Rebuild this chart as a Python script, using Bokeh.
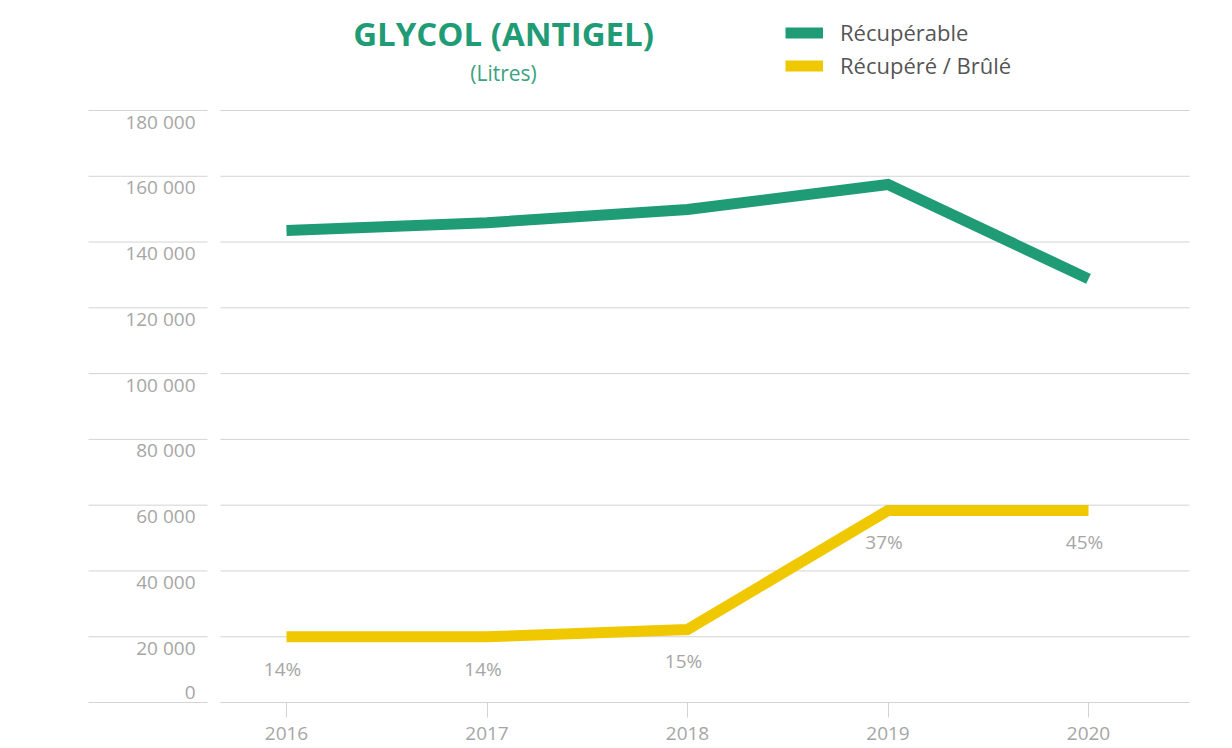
from bokeh.plotting import figure
from bokeh.models import Range1d, Legend, LegendItem, Label, FixedTicker
from bokeh.core.properties import value
from bokeh.embed import file_html
from bokeh.resources import INLINE

# ---- data ----
years = [2016, 2017, 2018, 2019, 2020]
recuperable = [143500, 145900, 149900, 157500, 128800]
recupere_brule = [20000, 20000, 22200, 58400, 58400]
pct_labels = ["14%", "14%", "15%", "37%", "45%"]
y_ticks = [0, 20000, 40000, 60000, 80000, 100000, 120000, 140000, 160000, 180000]
y_tick_labels = [f"{v:,}".replace(",", " ") for v in y_ticks]
series_names = ["Récupérable", "Récupéré / Brûlé"]
title_text = "GLYCOL (ANTIGEL)"
subtitle_text = "(Litres)"

# ---- style / layout ----
GREEN = "#1f9b76"
YELLOW = "#f0c800"
GRID = "#d3d3d3"
TXT = "#a6a6a6"
FONT = "Open Sans"

W, H = 1216, 748
FRAME_BOTTOM = 704            # page px of frame bottom
ZERO_PX = 702                 # page px of value 0
BOTTOM = H - FRAME_BOTTOM
PX_PER_YEAR = 200.5
FIRST_YEAR_PX = 286           # page px of first year
x0 = years[0] - FIRST_YEAR_PX / PX_PER_YEAR
x1 = x0 + W / PX_PER_YEAR
PX_PER_UNIT = 592 / 180000
y0 = -(FRAME_BOTTOM - ZERO_PX) / PX_PER_UNIT
y1 = ZERO_PX / PX_PER_UNIT

def xpx(px):
    return years[0] + (px - FIRST_YEAR_PX) / PX_PER_YEAR

p = figure(width=W, height=H, output_backend="svg", toolbar_location=None,
           x_range=Range1d(x0, x1), y_range=Range1d(y0, y1),
           min_border_left=0, min_border_right=0, min_border_top=0,
           min_border_bottom=BOTTOM)
p.outline_line_color = None
p.xgrid.visible = False
p.ygrid.visible = False
p.yaxis.visible = False
p.background_fill_color = "white"
p.border_fill_color = "white"

# grid segments (two parts each)
n = len(y_ticks)
p.segment(x0=[xpx(88)] * n, x1=[xpx(207)] * n, y0=y_ticks, y1=y_ticks,
          line_color=GRID, line_width=1)
p.segment(x0=[xpx(220)] * n, x1=[xpx(1189)] * n, y0=y_ticks, y1=y_ticks,
          line_color=GRID, line_width=1)

# y tick labels below grid lines ("0" sits above its line)
label_offsets = [-17 if v == 0 else -2 for v in y_ticks]
p.text(x=[xpx(195)] * n, y=y_ticks, text=y_tick_labels,
       text_align="right", text_baseline="top", y_offset=label_offsets,
       text_font=value(FONT), text_font_size="19px", text_color=TXT)

# x axis
ax = p.xaxis[0]
ax.ticker = FixedTicker(ticks=years)
ax.axis_line_color = None
ax.major_tick_in = FRAME_BOTTOM - ZERO_PX
ax.major_tick_out = 13
ax.major_tick_line_color = GRID
ax.minor_tick_line_color = None
ax.major_label_standoff = 9
ax.major_label_text_font = FONT
ax.major_label_text_font_size = "19px"
ax.major_label_text_color = TXT

# lines
r1 = p.line(years, recuperable, line_color=GREEN, line_width=11, line_cap="butt", line_join="miter")
r2 = p.line(years, recupere_brule, line_color=YELLOW, line_width=11, line_cap="butt", line_join="miter")

# percentage labels
p.text(x=years, y=recupere_brule, text=pct_labels, text_align="center", text_baseline="top",
       x_offset=-4, y_offset=19, text_font=value(FONT), text_font_size="19px", text_color=TXT)

# legend
legend = Legend(items=[LegendItem(label=series_names[0], renderers=[r1]),
                       LegendItem(label=series_names[1], renderers=[r2])],
                location=(785, FRAME_BOTTOM - 80), orientation="vertical")
legend.background_fill_alpha = 0
legend.border_line_color = None
legend.padding = 0
legend.margin = 0
legend.spacing = 3
legend.glyph_width = 38
legend.glyph_height = 15
legend.label_standoff = 17
legend.label_text_font = FONT
legend.label_text_font_size = "22px"
legend.label_text_color = "#555555"
p.add_layout(legend, "center")

# titles
p.add_layout(Label(x=503, y=FRAME_BOTTOM - 33, x_units="screen", y_units="screen", text=title_text,
                   text_align="center", text_baseline="middle", text_font=FONT,
                   text_font_style="bold", text_font_size="33px", text_color=GREEN))
p.add_layout(Label(x=503, y=FRAME_BOTTOM - 72, x_units="screen", y_units="screen", text=subtitle_text,
                   text_align="center", text_baseline="middle", text_font=FONT,
                   text_font_size="21px", text_color="#3aa37f"))

open("out.html", "w").write(file_html(p, INLINE))
